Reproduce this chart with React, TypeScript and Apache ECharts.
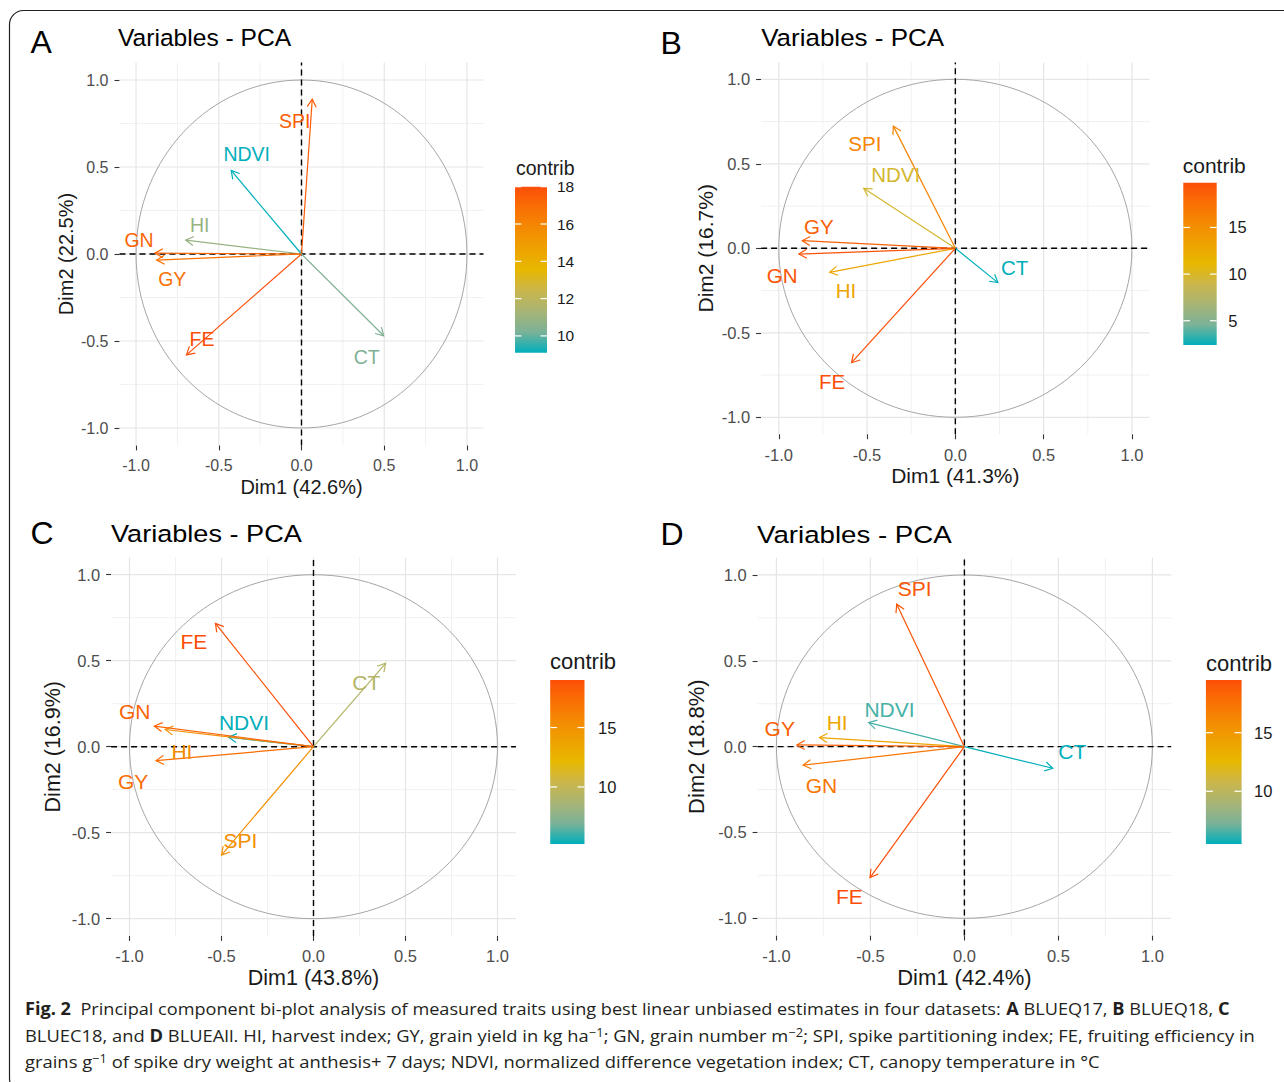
import React, { useEffect, useRef } from "react";
import * as echarts from "echarts";

// ---------------- DATA ----------------
const variables = ["SPI", "NDVI", "HI", "GN", "GY", "FE", "CT"];

// Panel A (BLUEQ17)
const dim1A = [0.065, -0.425, -0.7, -0.885, -0.875, -0.695, 0.497];
const dim2A = [0.89, 0.48, 0.08, 0.005, -0.035, -0.58, -0.47];
const contribA = [17.5, 9.1, 10.9, 17.2, 16.8, 18.0, 10.3];

// Panel B (BLUEQ18)
const dim1B = [-0.351, -0.519, -0.712, -0.886, -0.867, -0.588, 0.241];
const dim2B = [0.723, 0.355, -0.142, -0.034, 0.045, -0.677, -0.203];
const contribB = [15.9, 9.7, 13.0, 19.4, 18.6, 19.8, 2.4];

// Panel C (BLUEC18)
const dim1C = [-0.5, -0.461, -0.806, -0.865, -0.856, -0.533, 0.392];
const dim2C = [-0.63, 0.055, 0.1, 0.12, -0.081, 0.717, 0.485];
const contribC = [15.2, 5.2, 15.5, 17.9, 17.4, 19.0, 9.2];

// Panel D (BLUEAll)
const dim1D = [-0.36, -0.509, -0.771, -0.858, -0.891, -0.502, 0.47];
const dim2D = [0.83, 0.14, 0.053, -0.108, 0.01, -0.763, -0.126];
const contribD = [19.1, 6.5, 13.9, 17.3, 18.5, 19.5, 5.5];

const panelLetters = ["A", "B", "C", "D"];
const panelTitle = "Variables - PCA";
const dim1Titles = ["Dim1 (42.6%)", "Dim1 (41.3%)", "Dim1 (43.8%)", "Dim1 (42.4%)"];
const dim2Titles = ["Dim2 (22.5%)", "Dim2 (16.7%)", "Dim2 (16.9%)", "Dim2 (18.8%)"];
const axisTicks = [-1, -0.5, 0, 0.5, 1];
const majorBreaks = [-1, -0.5, 0, 0.5, 1];
const minorBreaks = [-0.75, -0.25, 0.25, 0.75];
const contribTicksA = [10, 12, 14, 16, 18];
const contribTicksB = [5, 10, 15];
const contribTicksC = [10, 15];
const contribTicksD = [10, 15];
const legendTitle = "contrib";

const captionLines: [string, string][][] = [
  [
    ["Fig. 2", "b"],
    ["  Principal component bi-plot analysis of measured traits using best linear unbiased estimates in four datasets: ", ""],
    ["A", "b"],
    [" BLUEQ17, ", ""],
    ["B", "b"],
    [" BLUEQ18, ", ""],
    ["C", "b"],
  ],
  [
    ["BLUEC18, and ", ""],
    ["D", "b"],
    [" BLUEAll. HI, harvest index; GY, grain yield in kg ha", ""],
    ["\u22121", "s"],
    ["; GN, grain number m", ""],
    ["\u22122", "s"],
    ["; SPI, spike partitioning index; FE, fruiting efficiency in", ""],
  ],
  [
    ["grains g", ""],
    ["\u22121", "s"],
    [" of spike dry weight at anthesis+ 7 days; NDVI, normalized difference vegetation index; CT, canopy temperature in \u00B0C", ""],
  ],
];

// ---------------- STYLE / LAYOUT ----------------
const FONT = '"Liberation Sans", Arial, Helvetica, sans-serif';
const CAP_FONT = '"Open Sans", "Noto Sans", sans-serif';
const palette = ["#00AFBB", "#7BB298", "#A8B474", "#CAB64C", "#E7B800", "#EEA201", "#F48A02", "#F96F04", "#FC4E07"];
const RANGE: [number, number] = [-1.1, 1.1];

const datasets = [
  { d1: dim1A, d2: dim2A, c: contribA, ticks: contribTicksA },
  { d1: dim1B, d2: dim2B, c: contribB, ticks: contribTicksB },
  { d1: dim1C, d2: dim2C, c: contribC, ticks: contribTicksC },
  { d1: dim1D, d2: dim2D, c: contribD, ticks: contribTicksD },
];

// label nudges in px (repelled label placement), order as `variables`
const labelNudge: [number, number][][] = [
  [[-17.5, 21.5], [15.5, -16], [14, -15], [-16, -13.5], [15.5, 19], [15.5, -15.5], [-17, 21]],
  [[-28.5, 17.3], [32, -14.3], [16.3, 18.5], [-16.7, 21], [16.5, -14], [-19.5, 19], [16.8, -15.5]],
  [[19, -14.2], [15.3, -14.5], [16.7, 21.7], [-19.6, -14.3], [-22.9, 21], [-21.6, 18.4], [-19.4, 19]],
  [[17.9, -15.2], [20.8, -13.5], [17.7, -14.9], [18.3, 20.5], [-17.1, -16.2], [-20.6, 18.5], [19.5, -16.6]],
];

const layout = [
  {
    grid: { left: 119.5, top: 62.6, width: 364, height: 382.8 },
    cbar: { left: 515, top: 186.7, width: 32, height: 166 },
    letter: [30.5, 41.5], title: [118, 37.5, 1.047], cbTitle: [516, 168, 19.5],
    tick: 16, axisTitle: 20, label: 19.5, cbLabel: 15.5, cbMargin: 10, yGap: 43.5, xGap: 32,
  },
  {
    grid: { left: 761.1, top: 62.4, width: 388.5, height: 371.8 },
    cbar: { left: 1183.3, top: 182.7, width: 33.4, height: 162.3 },
    letter: [660.5, 42.5], title: [761.2, 38.3, 1.106], cbTitle: [1182.7, 165.8, 21],
    tick: 16.5, axisTitle: 21, label: 20.5, cbLabel: 16.5, cbMargin: 11.5, yGap: 45, xGap: 31,
  },
  {
    grid: { left: 111.1, top: 557.5, width: 404.8, height: 378.4 },
    cbar: { left: 550.2, top: 680, width: 34.3, height: 164 },
    letter: [30.5, 532.5], title: [111, 533.3, 1.154], cbTitle: [550, 661.7, 22],
    tick: 16.5, axisTitle: 21.5, label: 21, cbLabel: 16.5, cbMargin: 13.5, yGap: 47.5, xGap: 31,
  },
  {
    grid: { left: 757.6, top: 557.8, width: 413.6, height: 377.7 },
    cbar: { left: 1205.9, top: 680, width: 35.7, height: 164 },
    letter: [660.5, 534], title: [757, 534.7, 1.178], cbTitle: [1206, 663.3, 22],
    tick: 16.5, axisTitle: 22, label: 21, cbLabel: 16.5, cbMargin: 12.4, yGap: 50, xGap: 31,
  },
];

const captionLayout = { x: 25, y: [1008.5, 1035.3, 1061], width: [1205, 1230, 1075], size: 17 };

function measureCaption(line: [string, string][], size: number) {
  const ctx = document.createElement("canvas").getContext("2d");
  if (!ctx) return 1;
  let w = 0;
  for (const [t, s] of line) {
    const fs = s === "s" ? size * 0.7 : size;
    ctx.font = `${s === "b" ? "bold " : ""}${fs}px ${CAP_FONT}`;
    w += ctx.measureText(t).width;
  }
  return w;
}

function buildOption() {
  const grid: any[] = [];
  const xAxis: any[] = [];
  const yAxis: any[] = [];
  const series: any[] = [];
  const visualMap: any[] = [];
  const graphic: any[] = [];

  datasets.forEach((ds, i) => {
    const L = layout[i];
    const cmin = Math.min(...ds.c);
    const cmax = Math.max(...ds.c);
    grid.push({ ...L.grid, containLabel: false, outerBoundsMode: "none" });
    grid.push({ ...L.cbar, containLabel: false, outerBoundsMode: "none" });

    xAxis.push({
      gridIndex: 2 * i, type: "value", min: RANGE[0], max: RANGE[1], position: "bottom",
      axisLine: { show: false, onZero: false },
      splitLine: { show: false },
      axisTick: { show: true, customValues: axisTicks, length: 5, lineStyle: { color: "#333333", width: 1.1 } },
      axisLabel: {
        customValues: axisTicks, formatter: (v: number) => v.toFixed(1),
        color: "#4D4D4D", fontSize: L.tick, fontFamily: FONT, margin: 12,
      },
      name: dim1Titles[i], nameLocation: "middle", nameGap: L.xGap, nameMoveOverlap: false,
      nameTextStyle: { fontSize: L.axisTitle, color: "#1A1A1A", fontFamily: FONT },
    });
    xAxis.push({ gridIndex: 2 * i + 1, type: "value", min: 0, max: 1, show: false });

    yAxis.push({
      gridIndex: 2 * i, type: "value", min: RANGE[0], max: RANGE[1], position: "left",
      axisLine: { show: false, onZero: false },
      splitLine: { show: false },
      axisTick: { show: true, customValues: axisTicks, length: 5, lineStyle: { color: "#333333", width: 1.1 } },
      axisLabel: {
        customValues: axisTicks, formatter: (v: number) => v.toFixed(1),
        color: "#4D4D4D", fontSize: L.tick, fontFamily: FONT, margin: 11,
      },
      name: dim2Titles[i], nameLocation: "middle", nameGap: L.yGap, nameMoveOverlap: false,
      nameTextStyle: { fontSize: L.axisTitle, color: "#1A1A1A", fontFamily: FONT },
    });
    yAxis.push({
      gridIndex: 2 * i + 1, type: "value", min: cmin, max: cmax, position: "right",
      axisLine: { show: false, onZero: false }, axisTick: { show: false }, splitLine: { show: false },
      axisLabel: { customValues: ds.ticks, color: "#1A1A1A", fontSize: L.cbLabel, fontFamily: FONT, margin: L.cbMargin },
    });

    const data = ds.d1.map((x, k) => [x, ds.d2[k], ds.c[k]]);

    // frame: grid lines, correlation circle, dashed zero lines
    series.push({
      type: "custom", xAxisIndex: 2 * i, yAxisIndex: 2 * i, z: 1, silent: true,
      data: [[0, 0]],
      renderItem: (_p: any, api: any) => {
        const children: any[] = [];
        const line = (a: number[], b: number[], style: any) =>
          children.push({ type: "line", shape: { x1: a[0], y1: a[1], x2: b[0], y2: b[1] }, style });
        const minorStyle = { stroke: "#EFEFEF", lineWidth: 0.9 };
        const majorStyle = { stroke: "#E6E6E6", lineWidth: 1.2 };
        minorBreaks.forEach((v) => {
          line(api.coord([v, RANGE[0]]), api.coord([v, RANGE[1]]), minorStyle);
          line(api.coord([RANGE[0], v]), api.coord([RANGE[1], v]), minorStyle);
        });
        majorBreaks.forEach((v) => {
          line(api.coord([v, RANGE[0]]), api.coord([v, RANGE[1]]), majorStyle);
          line(api.coord([RANGE[0], v]), api.coord([RANGE[1], v]), majorStyle);
        });
        const c = api.coord([0, 0]);
        const s = api.size([1, 1]);
        children.push({
          type: "ellipse", shape: { cx: c[0], cy: c[1], rx: s[0], ry: s[1] },
          style: { fill: "none", stroke: "#A6A6A6", lineWidth: 1 },
        });
        const dash = { stroke: "#000000", lineWidth: 1.4, lineDash: [6, 4] };
        line(api.coord([0, RANGE[0]]), api.coord([0, RANGE[1]]), dash);
        line(api.coord([RANGE[0], 0]), api.coord([RANGE[1], 0]), dash);
        return { type: "group", children };
      },
    });

    // arrows
    series.push({
      type: "custom", xAxisIndex: 2 * i, yAxisIndex: 2 * i, z: 3, silent: true,
      dimensions: ["dim1", "dim2", "contrib"], encode: { x: 0, y: 1 },
      data,
      renderItem: (_p: any, api: any) => {
        const o = api.coord([0, 0]);
        const p = api.coord([api.value(0), api.value(1)]);
        const color = api.visual("color");
        const ang = Math.atan2(p[1] - o[1], p[0] - o[0]);
        const len = 9;
        const a = Math.PI / 6;
        const h1 = [p[0] - len * Math.cos(ang - a), p[1] - len * Math.sin(ang - a)];
        const h2 = [p[0] - len * Math.cos(ang + a), p[1] - len * Math.sin(ang + a)];
        return {
          type: "group",
          children: [
            { type: "line", shape: { x1: o[0], y1: o[1], x2: p[0], y2: p[1] }, style: { stroke: color, lineWidth: 1.2 } },
            { type: "polyline", shape: { points: [h1, p, h2] }, style: { stroke: color, fill: null, lineWidth: 1.2 } },
          ],
        };
      },
    });

    // labels
    series.push({
      type: "custom", xAxisIndex: 2 * i, yAxisIndex: 2 * i, z: 4, silent: true,
      dimensions: ["dim1", "dim2", "contrib"], encode: { x: 0, y: 1 },
      data,
      renderItem: (params: any, api: any) => {
        const p = api.coord([api.value(0), api.value(1)]);
        const nud = labelNudge[i][params.dataIndex];
        const color = api.visual("color");
        return {
          type: "text", x: p[0] + nud[0], y: p[1] + nud[1],
          style: {
            text: variables[params.dataIndex], fill: color, fontSize: L.label, fontFamily: FONT,
            align: "center", verticalAlign: "middle", textAlign: "center", textVerticalAlign: "middle",
          },
        };
      },
    });

    // colour bar
    const stops = palette.map((col, k) => ({ offset: k / (palette.length - 1), color: col }));
    series.push({
      type: "custom", xAxisIndex: 2 * i + 1, yAxisIndex: 2 * i + 1, z: 2, silent: true,
      data: [[0, cmin]],
      renderItem: (_p: any, api: any) => {
        const tl = api.coord([0, cmax]);
        const br = api.coord([1, cmin]);
        const w = br[0] - tl[0];
        const children: any[] = [
          {
            type: "rect", shape: { x: tl[0], y: tl[1], width: w, height: br[1] - tl[1] },
            style: { fill: new echarts.graphic.LinearGradient(0, 1, 0, 0, stops) },
          },
        ];
        ds.ticks.forEach((t) => {
          const y = api.coord([0, t])[1];
          children.push({ type: "line", shape: { x1: tl[0], y1: y, x2: tl[0] + w / 5, y2: y }, style: { stroke: "#FFFFFF", lineWidth: 1.2 } });
          children.push({ type: "line", shape: { x1: br[0] - w / 5, y1: y, x2: br[0], y2: y }, style: { stroke: "#FFFFFF", lineWidth: 1.2 } });
        });
        return { type: "group", children };
      },
    });

    visualMap.push({
      type: "continuous", show: false, seriesIndex: [4 * i + 1, 4 * i + 2], dimension: 2,
      min: cmin, max: cmax, inRange: { color: palette },
    });

    graphic.push({
      type: "text", x: L.letter[0], y: L.letter[1], silent: true,
      style: { text: panelLetters[i], fontSize: 32, fontFamily: FONT, fill: "#000000", align: "left", verticalAlign: "middle", textAlign: "left", textVerticalAlign: "middle" },
    });
    graphic.push({
      type: "text", x: L.title[0], y: L.title[1], scaleX: L.title[2], silent: true,
      style: { text: panelTitle, fontSize: 23.5, fontFamily: FONT, fill: "#000000", align: "left", verticalAlign: "middle", textAlign: "left", textVerticalAlign: "middle" },
    });
    graphic.push({
      type: "text", x: L.cbTitle[0], y: L.cbTitle[1], silent: true,
      style: { text: legendTitle, fontSize: L.cbTitle[2], fontFamily: FONT, fill: "#1A1A1A", align: "left", verticalAlign: "middle", textAlign: "left", textVerticalAlign: "middle" },
    });
  });

  // border
  graphic.push({
    type: "rect", silent: true, z: -10,
    shape: { x: 9.5, y: 10.5, width: 1300, height: 1082, r: 14 },
    style: { fill: "none", stroke: "#231F20", lineWidth: 1.2 },
  });

  // caption
  const cs = captionLayout.size;
  captionLines.forEach((line, li) => {
    const natural = measureCaption(line, cs);
    const sx = captionLayout.width[li] / natural;
    const text = line.map(([t, s]) => (s ? `{${s}|${t}}` : t)).join("");
    graphic.push({
      type: "text", x: captionLayout.x, y: captionLayout.y[li], scaleX: sx, silent: true,
      style: {
        text, fontSize: cs, fontFamily: CAP_FONT, fill: "#231F20",
        align: "left", verticalAlign: "middle", textAlign: "left", textVerticalAlign: "middle",
        rich: {
          b: { fontSize: cs, fontFamily: CAP_FONT, fontWeight: "bold", fill: "#231F20" },
          s: { fontSize: cs * 0.7, fontFamily: CAP_FONT, fill: "#231F20", verticalAlign: "top", textVerticalAlign: "top" },
        },
      },
    });
  });

  return {
    animation: false,
    backgroundColor: "#FFFFFF",
    textStyle: { fontFamily: FONT },
    grid, xAxis, yAxis, series, visualMap, graphic,
  };
}

export default function App() {
  const ref = useRef<HTMLDivElement>(null);
  useEffect(() => {
    if (!ref.current) return;
    const chart = echarts.init(ref.current, null, { renderer: "svg", width: 1284, height: 1082 });
    chart.setOption(buildOption() as any);
    return () => chart.dispose();
  }, []);
  return (
    <div
      ref={ref}
      style={{ position: "absolute", left: 0, top: 0, width: 1284, height: 1082, background: "#FFFFFF" }}
    />
  );
}
